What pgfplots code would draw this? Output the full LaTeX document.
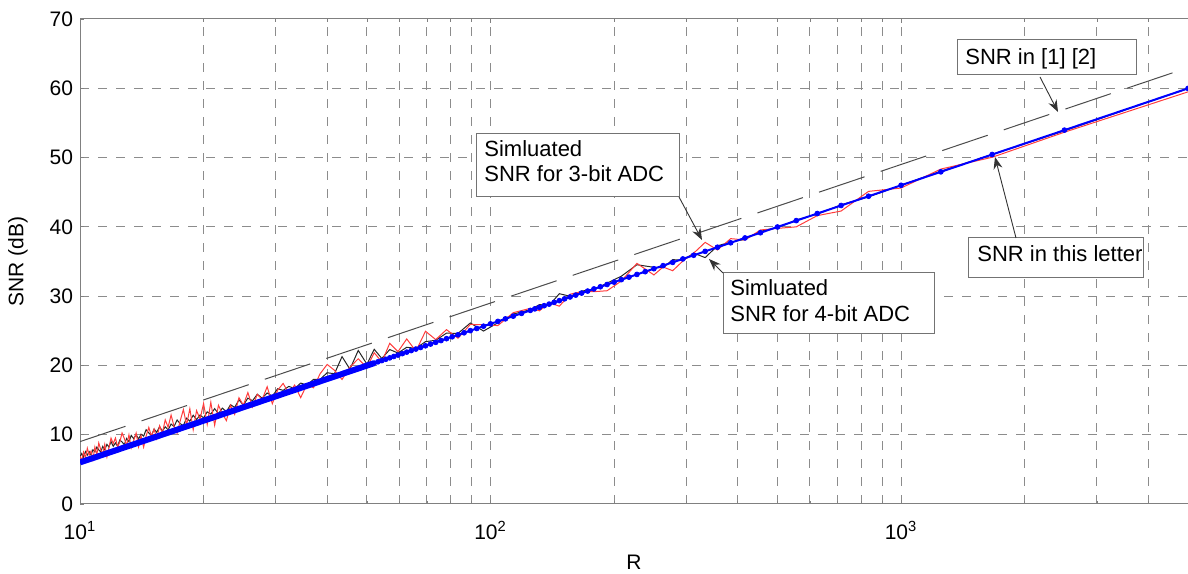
\documentclass[border=0pt]{standalone}
\usepackage{fontspec}
\setmainfont{Liberation Sans}
\usepackage{pgfplots}
\pgfplotsset{compat=1.18}
\usepackage{pgfplotstable}
\usetikzlibrary{arrows.meta}

\definecolor{gridgray}{gray}{0.55}
\definecolor{framegray}{gray}{0.5}
\definecolor{simred}{RGB}{255,60,60}
\definecolor{simblack}{gray}{0.15}
\definecolor{refgray}{gray}{0.3}
\definecolor{boxgray}{gray}{0.45}

% simulated SNR, 3-bit (red) and 4-bit (black) ADC
\pgfplotstableread{
R      red    black
10.00  6.90   6.80
10.10  6.29   7.29
10.20  7.48   6.78
10.31  6.66   7.56
10.42  8.05   7.05
10.53  7.05   7.55
10.64  7.64   7.04
10.75  6.43   7.83
10.87  8.22   7.52
10.99  7.12   8.22
11.11  8.81   7.81
11.24  7.81   7.51
11.36  7.21   8.31
11.49  8.61   7.81
11.63  6.81   8.61
11.76  8.11   8.21
11.90  9.51   9.01
12.05  8.72   8.32
12.20  9.52   8.82
12.35  8.23   8.33
12.50  8.94   9.24
12.66  10.25  8.95
12.82  9.46   8.56
12.99  8.47   9.47
13.16  9.98   8.98
13.33  8.10   9.90
13.51  9.12   9.42
13.70  10.23  10.03
13.89  8.25   9.35
14.08  9.87   10.07
14.29  8.20   9.80
14.49  9.82   10.72
14.71  11.05  10.25
14.93  9.78   9.88
15.15  10.81  10.81
15.38  9.44   10.34
15.63  11.28  11.18
15.87  10.21  10.51
16.13  12.15  11.15
16.39  11.09  10.69
16.67  12.84  11.54
16.95  11.18  11.18
17.24  10.23  12.13
17.54  11.98  11.58
17.86  13.64  11.34
18.18  11.39  12.39
18.52  13.75  11.95
18.87  10.71  12.81
19.23  13.48  12.18
19.61  12.25  12.85
20.00  14.52  12.42
20.41  11.50  13.30
20.83  14.68  12.98
21.28  11.36  13.76
21.74  14.24  13.04
22.22  13.04  13.84
22.73  12.03  13.33
23.26  14.23  14.33
23.81  12.94  13.94
24.39  15.34  15.04
25.00  14.26  14.26
25.64  16.08  15.28
26.32  14.00  14.90
27.03  15.84  15.84
27.78  15.07  15.27
28.57  16.92  16.02
29.41  14.47  15.57
30.30  16.43  16.63
31.25  17.40  16.40
32.26  15.97  16.97
33.33  17.16  16.66
34.48  15.35  17.45
35.71  17.26  17.16
37.04  16.77  17.97
38.46  18.80  18.00
40.00  20.14  18.94
41.67  19.30  18.80
43.48  17.97  21.27
45.45  19.75  19.45
47.62  20.96  22.16
50.00  19.68  20.18
52.08  21.83  22.33
54.35  20.50  21.00
56.82  23.19  22.29
59.52  21.99  21.79
62.50  23.82  22.62
65.79  22.06  22.46
69.44  24.93  23.43
73.53  23.73  23.63
78.13  25.16  24.66
83.33  23.92  24.62
89.29  25.92  26.12
96.15  25.86  24.96
104.2  25.75  26.15
113.6  27.61  27.41
125.0  28.24  28.04
131.6  27.88  28.78
138.9  29.05  28.65
147.1  28.55  30.35
156.25 30.28  29.98
166.7  30.64  30.74
178.6  30.64  30.94
192.3  30.78  31.88
208.3  32.18  32.88
227.3  34.73  34.53
250.0  33.06  34.16
263.2  34.20  34.10
277.8  33.67  35.27
294.1  35.07  35.17
312.5  36.20  36.20
333.3  37.76  35.56
357.1  36.66  37.26
384.6  38.30  37.80
416.7  38.10  38.20
454.5  39.55  39.35
500.0  39.78  39.88
555.6  40.00  41.00
625.0  41.62  41.82
714.3  42.28  43.18
833.3  45.12  44.32
1000   45.60  46.00
1250   48.34  48.04
1666.7 50.04  50.44
2500   53.66  53.86
5000   59.48  59.98
}\simdata

\begin{document}
\begin{tikzpicture}
\begin{axis}[
    scale only axis,
    width=554pt, height=242.5pt,
    xmode=log,
    xmin=10, xmax=5000, ymin=0, ymax=70,
    xtick={10,100,1000},
    xticklabels={10\textsuperscript{1},10\textsuperscript{2},10\textsuperscript{3}},
    minor xtick={20,30,40,50,60,70,80,90,200,300,400,500,600,700,800,900,2000,3000,4000},
    ytick={0,10,...,70},
    ytick pos=left,
    grid=both,
    major grid style={gridgray, line width=0.5pt, dash pattern=on 4.5pt off 4.5pt},
    minor grid style={gridgray, line width=0.5pt, dash pattern=on 4.5pt off 4.5pt},
    axis x line*=box, axis y line*=left,
    axis line style={framegray, line width=0.5pt, -},
    tick align=inside,
    major tick length=2pt, minor tick length=1.5pt,
    tick style={framegray, line width=0.4pt},
    /pgf/number format/assume math mode=true,
    ticklabel style={font=\fontsize{10.5}{12}\selectfont},
    xticklabel style={yshift=-5pt},
    label style={font=\fontsize{10.5}{12}\selectfont},
    xlabel={R},
    ylabel={SNR (dB)},
    xlabel style={at={(axis description cs:0.5,-0.12)}, anchor=center},
    ylabel style={at={(axis description cs:-0.056,0.5)}, anchor=center},
]
% SNR in [1] [2]
\addplot[refgray, line width=0.5pt, dash pattern=on 24pt off 8.5pt]
    coordinates {(10,9.00) (5000,62.98)};
% simulated curves
\addplot[simblack, line width=0.5pt] table[x=R, y=black] {\simdata};
\addplot[simred, line width=0.5pt] table[x=R, y=red] {\simdata};
% SNR in this letter
\addplot[blue, line width=3pt] coordinates {(10,6.00) (52.08,20.33)};
\addplot[blue, line width=1pt] coordinates {(10,6.00) (5000,59.98)};
\addplot[blue, only marks, mark=*, mark size=1.2pt] coordinates {
 (5000,59.98) (2500,53.96) (1666.7,50.44) (1250,47.94) (1000,46.00)
 (833.3,44.42) (714.3,43.08) (625,41.92) (555.6,40.90) (500,39.98)
 (454.5,39.15) (416.7,38.40) (384.6,37.70) (357.1,37.06) (333.3,36.46)
 (312.5,35.90) (294.1,35.37) (277.8,34.87) (263.2,34.40) (250,33.96)
 (238.1,33.53) (227.3,33.13) (217.4,32.74) (208.3,32.38) (200,32.02)
 (192.3,31.68) (185.2,31.35) (178.6,31.04) (172.4,30.73) (166.7,30.44)
 (161.3,30.15) (156.25,29.88) (151.5,29.61) (147.1,29.35) (142.9,29.10)
 (138.9,28.85) (135.1,28.62) (131.6,28.38) (128.2,28.16) (125,27.94)
 (119.0,27.51) (113.6,27.11) (108.7,26.72) (104.2,26.35) (100,26.00)
 (96.15,25.66) (92.59,25.33) (89.29,25.02) (86.21,24.71) (83.33,24.42)
 (80.65,24.13) (78.13,23.86) (75.76,23.59) (73.53,23.33) (71.43,23.08)
 (69.44,22.83) (67.57,22.59) (65.79,22.36) (64.10,22.14) (62.5,21.92)
 (60.98,21.70) (59.52,21.49) (58.14,21.29) (56.82,21.09) (55.56,20.89)
 (54.35,20.70) (53.19,20.52) (52.08,20.33) (51.02,20.15) (50,19.98)
};
\coordinate (bl) at (rel axis cs:0,0);
\coordinate (tr) at (rel axis cs:1,1);
\end{axis}

% annotations, in pixel units of the 1188x574 frame
\begin{scope}[shift={(bl)}, xshift=-40pt, yshift=252pt, x=0.5pt, y=-0.5pt,
    box/.style={boxgray, fill=white, line width=0.5pt},
    txt/.style={anchor=base west, inner sep=0pt, font=\fontsize{11}{13}\selectfont},
    pointer/.style={black!80, line width=0.45pt, -{Stealth[length=6pt, width=4.5pt]}}]
  \draw[box] (957,40) rectangle (1136,75);
  \node[txt] at (965,65) {SNR in [1] [2]};
  \draw[pointer] (1040,77) -- (1058,112);

  \draw[box] (476,134) rectangle (679,197);
  \node[txt] at (484,157) {Simluated};
  \node[txt] at (484,182) {SNR for 3-bit ADC};
  \draw[pointer] (679,197) -- (702,240);

  \draw[box] (723,273) rectangle (934,334);
  \node[txt] at (730,296) {Simluated};
  \node[txt] at (730,322) {SNR for 4-bit ADC};
  \draw[pointer] (723,273) -- (709,259);

  \draw[box] (968,238) rectangle (1143,278);
  \node[txt] at (977,262) {SNR in this letter};
  \draw[pointer] (1016,238) -- (995,157);
\end{scope}

\pgfresetboundingbox
\path ([shift={(-40pt,-35pt)}]bl) rectangle ([shift={(0pt,9.5pt)}]tr);
\end{tikzpicture}
\end{document}
